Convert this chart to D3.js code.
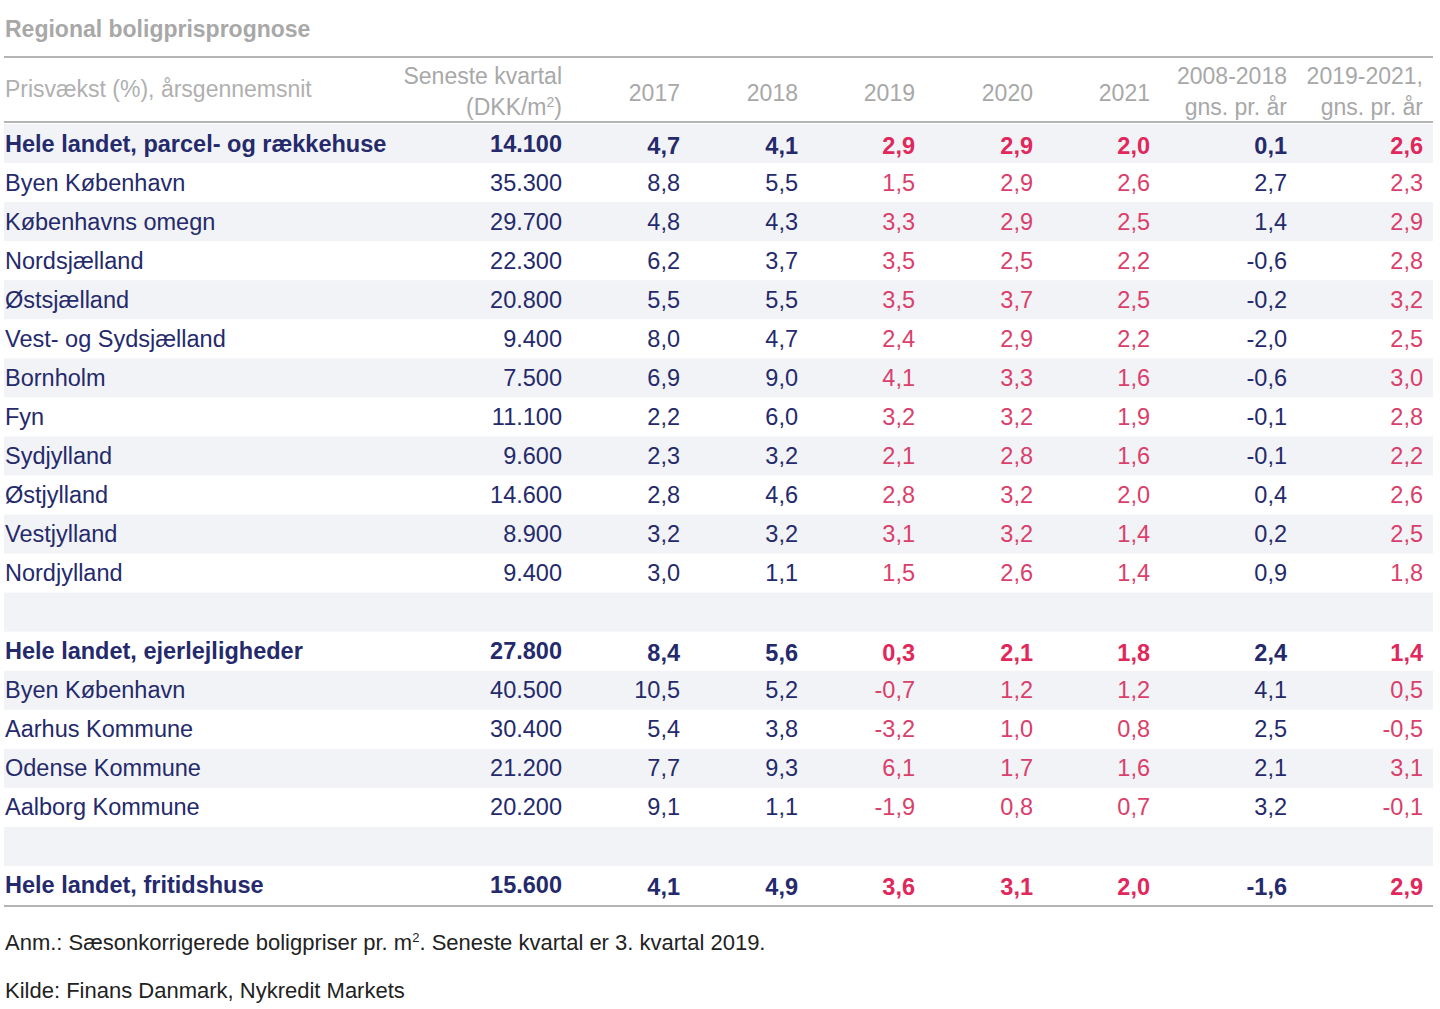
<!DOCTYPE html>
<html><head><meta charset="utf-8">
<script src="https://cdn.jsdelivr.net/npm/d3@7"></script>
<style>body{margin:0;background:#fff;font-family:Arial,"Liberation Sans",sans-serif}</style>
</head><body><svg id="c" width="1440" height="1009"></svg>
<script>
const columns = ["Seneste kvartal|(DKK/m²)","2017","2018","2019","2020","2021","2008-2018|gns. pr. år","2019-2021,|gns. pr. år"];
const regions = ["Hele landet, parcel- og rækkehuse","Byen København","Københavns omegn","Nordsjælland","Østsjælland","Vest- og Sydsjælland","Bornholm","Fyn","Sydjylland","Østjylland","Vestjylland","Nordjylland","","Hele landet, ejerlejligheder","Byen København","Aarhus Kommune","Odense Kommune","Aalborg Kommune","","Hele landet, fritidshuse"];
const boldRows = [0,13,19];
const latest = ["14.100","35.300","29.700","22.300","20.800","9.400","7.500","11.100","9.600","14.600","8.900","9.400","","27.800","40.500","30.400","21.200","20.200","","15.600"];
const v2017 = ["4,7","8,8","4,8","6,2","5,5","8,0","6,9","2,2","2,3","2,8","3,2","3,0","","8,4","10,5","5,4","7,7","9,1","","4,1"];
const v2018 = ["4,1","5,5","4,3","3,7","5,5","4,7","9,0","6,0","3,2","4,6","3,2","1,1","","5,6","5,2","3,8","9,3","1,1","","4,9"];
const v2019 = ["2,9","1,5","3,3","3,5","3,5","2,4","4,1","3,2","2,1","2,8","3,1","1,5","","0,3","-0,7","-3,2","6,1","-1,9","","3,6"];
const v2020 = ["2,9","2,9","2,9","2,5","3,7","2,9","3,3","3,2","2,8","3,2","3,2","2,6","","2,1","1,2","1,0","1,7","0,8","","3,1"];
const v2021 = ["2,0","2,6","2,5","2,2","2,5","2,2","1,6","1,9","1,6","2,0","1,4","1,4","","1,8","1,2","0,8","1,6","0,7","","2,0"];
const avgHist = ["0,1","2,7","1,4","-0,6","-0,2","-2,0","-0,6","-0,1","-0,1","0,4","0,2","0,9","","2,4","4,1","2,5","2,1","3,2","","-1,6"];
const avgFc = ["2,6","2,3","2,9","2,8","3,2","2,5","3,0","2,8","2,2","2,6","2,5","1,8","","1,4","0,5","-0,5","3,1","-0,1","","2,9"];
const series = [latest,v2017,v2018,v2019,v2020,v2021,avgHist,avgFc];
const forecastCols = [3,4,5,7];

const svg = d3.select("#c");
const navy="#242a6b", red="#e0285c";
const x = d3.scaleOrdinal().domain(d3.range(columns.length)).range([562,680,798,915,1033,1150,1287,1423]);
const y = d3.scaleBand().domain(d3.range(regions.length)).range([124,905]);

svg.append("text").attr("x",5).attr("y",37).attr("font-size",23).attr("font-weight","bold").attr("fill","#a8a8a8").text("Regional boligprisprognose");

svg.selectAll("rect.s").data(d3.range(regions.length).filter(i=>i%2===0)).join("rect")
 .attr("x",4).attr("width",1429).attr("y",i=>y(i)).attr("height",y.bandwidth()).attr("fill","#f2f3f6");

[57,122,906].forEach(yy=>svg.append("line").attr("x1",4).attr("x2",1433).attr("y1",yy).attr("y2",yy).attr("stroke","#b4b4b4").attr("stroke-width",2));

svg.append("text").attr("x",5).attr("y",97).attr("font-size",23).attr("fill","#b0b0b0").text("Prisvækst (%), årsgennemsnit");
columns.forEach((c,j)=>{
  const parts=c.split("|");
  const t=svg.append("text").attr("text-anchor","end").attr("font-size",23).attr("fill","#a8a8a8");
  if(parts.length===1) t.append("tspan").attr("x",x(j)).attr("y",101).text(parts[0]);
  else { t.append("tspan").attr("x",x(j)).attr("y",84).text(parts[0]);
    if(j===0){ const s=t.append("tspan").attr("x",x(j)).attr("y",115); s.text("(DKK/m"); s.append("tspan").attr("font-size",14).attr("dy",-8).text("2"); s.append("tspan").attr("dy",8).text(")"); }
    else t.append("tspan").attr("x",x(j)).attr("y",115).text(parts[1]); }
});

regions.forEach((r,i)=>{
  const b=boldRows.includes(i), cy=y(i)+y.bandwidth()/2+8;
  svg.append("text").attr("x",5).attr("y",cy).attr("font-size",23.5).attr("font-weight",b?"bold":"normal").attr("fill",navy).text(r);
  series.forEach((s,j)=>{
    svg.append("text").attr("x",x(j)).attr("y",cy+(j>0&&b?2:0)).attr("text-anchor","end").attr("font-size",23.5)
      .attr("font-weight",b?"bold":"normal").attr("fill",forecastCols.includes(j)?(b?red:"#d9406b"):navy).text(s[i]);
  });
});

const f=svg.append("text").attr("x",5).attr("y",950).attr("font-size",22).attr("fill","#222");
f.append("tspan").text("Anm.: Sæsonkorrigerede boligpriser pr. m");
f.append("tspan").attr("font-size",13).attr("dy",-8).text("2");
f.append("tspan").attr("dy",8).text(". Seneste kvartal er 3. kvartal 2019.");
svg.append("text").attr("x",5).attr("y",998).attr("font-size",22).attr("fill","#222").text("Kilde: Finans Danmark, Nykredit Markets");
</script></body></html>
